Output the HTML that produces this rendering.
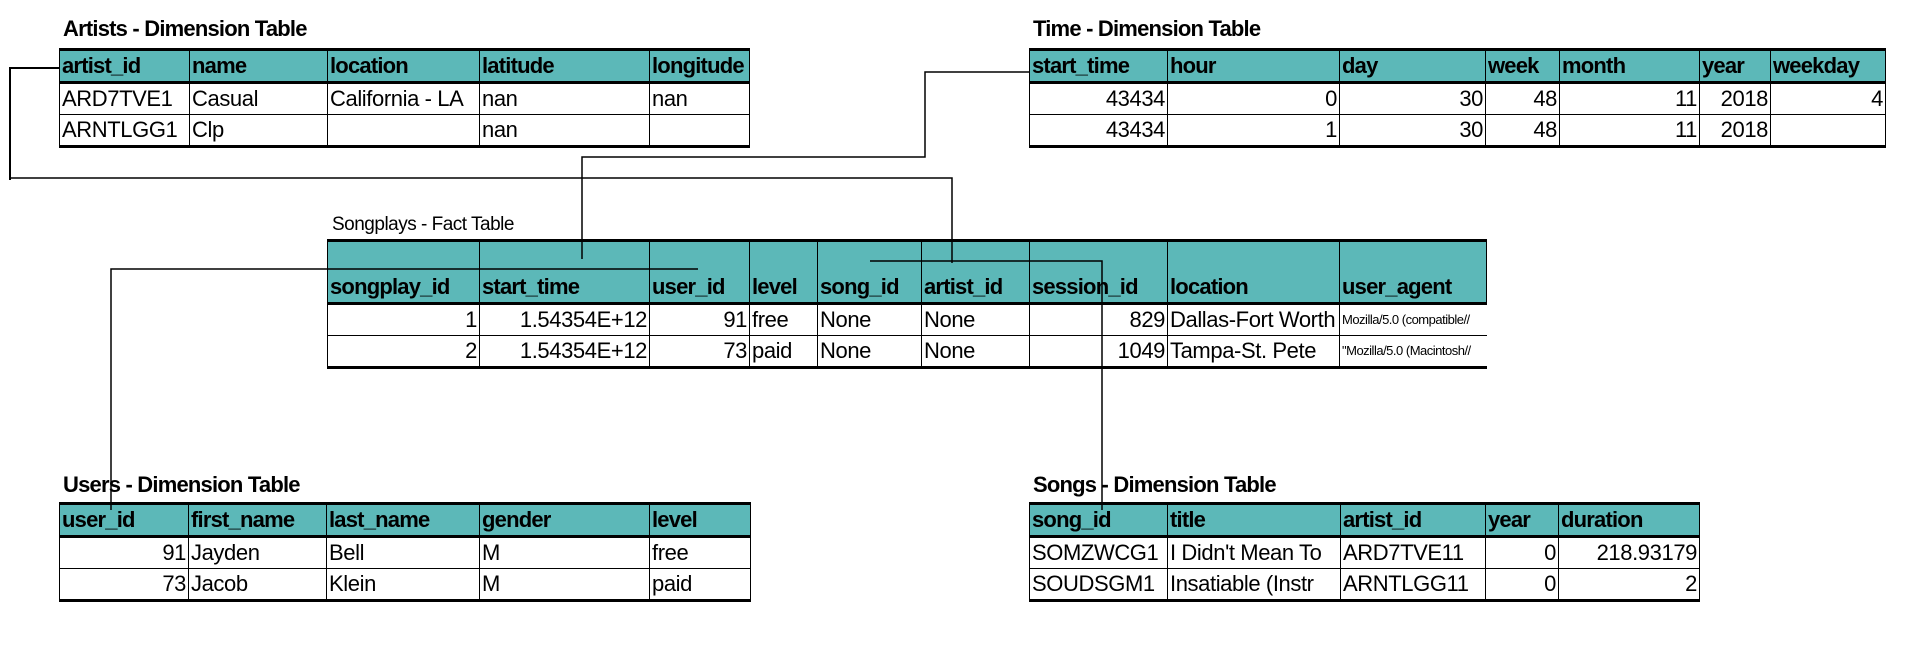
<!DOCTYPE html>
<html><head><meta charset="utf-8"><style>
body{margin:0;width:1923px;height:647px;background:#fff;position:relative;overflow:hidden;font-family:"Liberation Sans",Arial,sans-serif;}
.t{position:absolute;border-collapse:collapse;table-layout:fixed;font-size:22px;color:#000;letter-spacing:-0.4px}
.t td{border:1.5px solid #000;height:30px;padding:0 2px;white-space:nowrap;overflow:hidden;line-height:30px;vertical-align:bottom}
.t tr.h td{background:#5cb8b8;font-weight:bold;border-top:3px solid #000;border-bottom:3px solid #000;letter-spacing:-0.8px}
.t tr:last-child td{border-bottom:3px solid #000}
.r{text-align:right}
.ttl{position:absolute;font-weight:bold;font-size:22px;letter-spacing:-0.8px;white-space:nowrap}
.ua{font-size:13px;letter-spacing:-0.5px}
svg{position:absolute;left:0;top:0}
</style></head><body>
<div class="ttl" style="left:63px;top:16px">Artists - Dimension Table</div>
<table class="t" style="left:59px;top:48px;width:690px">
<colgroup><col style="width:130px"><col style="width:138px"><col style="width:152px"><col style="width:170px"><col style="width:100px"></colgroup>
<tr class="h"><td>artist_id</td><td>name</td><td>location</td><td>latitude</td><td style="overflow:visible">longitude</td></tr>
<tr><td>ARD7TVE1</td><td>Casual</td><td>California - LA</td><td>nan</td><td>nan</td></tr>
<tr><td>ARNTLGG1</td><td>Clp</td><td></td><td>nan</td><td></td></tr>
</table>

<div class="ttl" style="left:1033px;top:16px">Time - Dimension Table</div>
<table class="t" style="left:1029px;top:48px;width:856px">
<colgroup><col style="width:138px"><col style="width:172px"><col style="width:146px"><col style="width:74px"><col style="width:140px"><col style="width:71px"><col style="width:115px"></colgroup>
<tr class="h"><td>start_time</td><td>hour</td><td>day</td><td>week</td><td>month</td><td>year</td><td>weekday</td></tr>
<tr><td class="r">43434</td><td class="r">0</td><td class="r">30</td><td class="r">48</td><td class="r">11</td><td class="r">2018</td><td class="r">4</td></tr>
<tr><td class="r">43434</td><td class="r">1</td><td class="r">30</td><td class="r">48</td><td class="r">11</td><td class="r">2018</td><td></td></tr>
</table>

<div style="position:absolute;left:332px;top:214px;font-size:19px;white-space:nowrap;letter-spacing:-0.5px">Songplays - Fact Table</div>
<table class="t" style="left:327px;top:239px;width:1159px">
<colgroup><col style="width:152px"><col style="width:170px"><col style="width:100px"><col style="width:68px"><col style="width:104px"><col style="width:108px"><col style="width:138px"><col style="width:172px"><col style="width:147px"></colgroup>
<tr class="h"><td style="height:60px">songplay_id</td><td>start_time</td><td>user_id</td><td>level</td><td>song_id</td><td>artist_id</td><td>session_id</td><td>location</td><td>user_agent</td></tr>
<tr><td class="r">1</td><td class="r">1.54354E+12</td><td class="r">91</td><td>free</td><td>None</td><td>None</td><td class="r">829</td><td>Dallas-Fort Worth</td><td class="ua" style="border-right:none">Mozilla/5.0 (compatible//</td></tr>
<tr><td class="r">2</td><td class="r">1.54354E+12</td><td class="r">73</td><td>paid</td><td>None</td><td>None</td><td class="r">1049</td><td>Tampa-St. Pete</td><td class="ua" style="border-right:none">"Mozilla/5.0 (Macintosh//</td></tr>
</table>

<div class="ttl" style="left:63px;top:472px">Users - Dimension Table</div>
<table class="t" style="left:59px;top:502px;width:691px">
<colgroup><col style="width:129px"><col style="width:138px"><col style="width:153px"><col style="width:170px"><col style="width:101px"></colgroup>
<tr class="h"><td>user_id</td><td>first_name</td><td>last_name</td><td>gender</td><td>level</td></tr>
<tr><td class="r">91</td><td>Jayden</td><td>Bell</td><td>M</td><td>free</td></tr>
<tr><td class="r">73</td><td>Jacob</td><td>Klein</td><td>M</td><td>paid</td></tr>
</table>

<div class="ttl" style="left:1033px;top:472px">Songs - Dimension Table</div>
<table class="t" style="left:1029px;top:502px;width:670px">
<colgroup><col style="width:138px"><col style="width:173px"><col style="width:145px"><col style="width:73px"><col style="width:141px"></colgroup>
<tr class="h"><td>song_id</td><td>title</td><td>artist_id</td><td>year</td><td>duration</td></tr>
<tr><td>SOMZWCG1</td><td>I Didn't Mean To</td><td>ARD7TVE11</td><td class="r">0</td><td class="r">218.93179</td></tr>
<tr><td>SOUDSGM1</td><td>Insatiable (Instr</td><td>ARNTLGG11</td><td class="r">0</td><td class="r">2</td></tr>
</table>

<svg width="1923" height="647" fill="none" stroke="#000">
<polyline points="59,68 10,68 10,180" stroke-width="2"/>
<polyline points="10,178 952,178 952,263" stroke-width="1.5"/>
<polyline points="582,259 582,157 925,157 925,72 1029,72" stroke-width="1.5"/>
<polyline points="111,510 111,269 698,269" stroke-width="1.5"/>
<polyline points="870,261 1102,261 1102,510" stroke-width="1.5"/>
</svg>
</body></html>
